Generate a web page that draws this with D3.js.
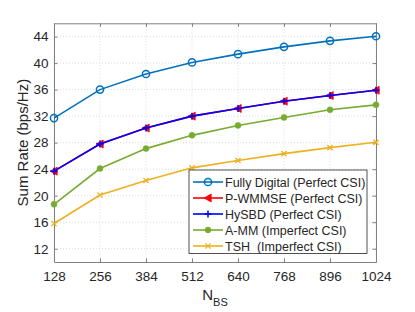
<!DOCTYPE html>
<html>
<head>
<meta charset="utf-8">
<script src="https://cdn.jsdelivr.net/npm/d3@7"></script>
<style>
  html, body { margin: 0; padding: 0; background: #fff; }
  svg { display: block; font-family: "Liberation Sans", Arial, Helvetica, sans-serif; }
</style>
</head>
<body>
<svg id="chart" width="415" height="312"></svg>
<script>
// ---- data ----
const nbs = [128, 256, 384, 512, 640, 768, 896, 1024];
const xTicks = [128, 256, 384, 512, 640, 768, 896, 1024];
const yTicks = [12, 16, 20, 24, 28, 32, 36, 40, 44];
const fullyDigital = [31.7, 36.0, 38.35, 40.1, 41.35, 42.45, 43.35, 44.05];
const pWMMSE       = [23.7, 27.8, 30.2, 32.0, 33.15, 34.25, 35.1, 35.9];
const hySBD        = [23.7, 27.8, 30.2, 32.0, 33.15, 34.25, 35.1, 35.9];
const aMM          = [18.7, 24.1, 27.1, 29.1, 30.6, 31.8, 32.95, 33.7];
const tsh          = [15.8, 20.1, 22.3, 24.2, 25.3, 26.35, 27.25, 28.05];
const seriesNames  = ["Fully Digital (Perfect CSI)", "P-WMMSE (Perfect CSI)", "HySBD (Perfect CSI)", "A-MM (Imperfect CSI)", "TSH  (Imperfect CSI)"];

const series = [
  { name: seriesNames[0], values: fullyDigital, color: "#0072BD", marker: "circle" },
  { name: seriesNames[1], values: pWMMSE, color: "#FF0000", marker: "triLeft" },
  { name: seriesNames[2], values: hySBD, color: "#0000FF", marker: "plus" },
  { name: seriesNames[3], values: aMM, color: "#77AC30", marker: "dot" },
  { name: seriesNames[4], values: tsh, color: "#EDB120", marker: "cross" }
];

const svg = d3.select("#chart");
const L = 54, R = 376, T = 23.3, B = 262;
const x = d3.scaleLinear().domain([128, 1024]).range([L, R]);
const y = d3.scaleLinear().domain([10, 46]).range([B, T]);

const axisColor = "#808080";
const textColor = "#262626";

// grid
const grid = svg.append("g");
grid.selectAll(".gx").data(xTicks).join("line")
  .attr("x1", d => x(d)).attr("x2", d => x(d)).attr("y1", T).attr("y2", B)
  .attr("stroke", "#d4d4d4").attr("stroke-width", 0.8).attr("stroke-dasharray", "1,2");
grid.selectAll(".gy").data(yTicks).join("line")
  .attr("x1", L).attr("x2", R).attr("y1", d => y(d)).attr("y2", d => y(d))
  .attr("stroke", "#d4d4d4").attr("stroke-width", 0.8).attr("stroke-dasharray", "1,2");

// axes (box with inward ticks)
function styleAxis(g) {
  g.select(".domain").attr("stroke", axisColor).attr("stroke-width", 1);
  g.selectAll(".tick line").attr("stroke", axisColor);
  g.selectAll(".tick text").attr("fill", textColor).attr("font-size", "13.5px")
    .attr("font-family", "'Liberation Sans', Arial, sans-serif");
}
const xAxisB = svg.append("g").attr("transform", `translate(0,${B})`)
  .call(d3.axisBottom(x).tickValues(xTicks).tickSizeInner(-3.5).tickSizeOuter(0).tickPadding(9.5).tickFormat(d3.format("d")));
styleAxis(xAxisB);
const xAxisT = svg.append("g").attr("transform", `translate(0,${T})`)
  .call(d3.axisTop(x).tickValues(xTicks).tickSizeInner(-3.5).tickSizeOuter(0).tickFormat(""));
styleAxis(xAxisT);
const yAxisL = svg.append("g").attr("transform", `translate(${L},0)`)
  .call(d3.axisLeft(y).tickValues(yTicks).tickSizeInner(-3.5).tickSizeOuter(0).tickPadding(5.5).tickFormat(d3.format("d")));
styleAxis(yAxisL);
const yAxisR = svg.append("g").attr("transform", `translate(${R},0)`)
  .call(d3.axisRight(y).tickValues(yTicks).tickSizeInner(-3.5).tickSizeOuter(0).tickFormat(""));
styleAxis(yAxisR);

// axis labels
svg.append("text")
  .attr("transform", `translate(28,${(T + B) / 2}) rotate(-90)`)
  .attr("text-anchor", "middle").attr("fill", textColor).attr("font-size", "15px")
  .text("Sum Rate (bps/Hz)");
const xl = svg.append("text").attr("x", (L + R) / 2).attr("y", 300)
  .attr("text-anchor", "middle").attr("fill", textColor).attr("font-size", "15px");
xl.append("tspan").text("N");
xl.append("tspan").attr("dy", 6).attr("font-size", "11px").text("BS");

// markers
function drawMarker(g, type, cx, cy, color) {
  if (type === "circle") {
    g.append("circle").attr("cx", cx).attr("cy", cy).attr("r", 3.6)
      .attr("fill", "none").attr("stroke", color).attr("stroke-width", 1.5);
  } else if (type === "triLeft") {
    const s = 4;
    g.append("path").attr("d", `M${cx - s},${cy} L${cx + s * 0.8},${cy - s} L${cx + s * 0.8},${cy + s} Z`)
      .attr("fill", color).attr("stroke", color).attr("stroke-width", 0.8);
  } else if (type === "plus") {
    const s = 3.5;
    g.append("path").attr("d", `M${cx - s},${cy} H${cx + s} M${cx},${cy - s} V${cy + s}`)
      .attr("stroke", color).attr("stroke-width", 1.5);
  } else if (type === "dot") {
    g.append("circle").attr("cx", cx).attr("cy", cy).attr("r", 3)
      .attr("fill", color).attr("stroke", color).attr("stroke-width", 0.5);
  } else if (type === "cross") {
    const s = 2.6;
    g.append("path").attr("d", `M${cx - s},${cy - s} L${cx + s},${cy + s} M${cx - s},${cy + s} L${cx + s},${cy - s}`)
      .attr("stroke", color).attr("stroke-width", 1.3);
  }
}

const line = d3.line().x((d, i) => x(nbs[i])).y(d => y(d));
series.forEach(s => {
  const g = svg.append("g");
  g.append("path").datum(s.values).attr("d", line)
    .attr("fill", "none").attr("stroke", s.color).attr("stroke-width", 1.6);
  s.values.forEach((v, i) => drawMarker(g, s.marker, x(nbs[i]), y(v), s.color));
});

// legend
const lg = svg.append("g");
lg.append("rect").attr("x", 189).attr("y", 170).attr("width", 178).attr("height", 83.5)
  .attr("fill", "#fff").attr("stroke", "#262626").attr("stroke-width", 0.8);
const rowY = d3.scaleLinear().domain([0, 4]).range([182, 246]);
series.forEach((s, i) => {
  const yy = rowY(i);
  lg.append("line").attr("x1", 193).attr("x2", 223).attr("y1", yy).attr("y2", yy)
    .attr("stroke", s.color).attr("stroke-width", 1.6);
  drawMarker(lg, s.marker, 208, yy, s.color);
  lg.append("text").attr("x", 225).attr("y", yy + 4.5).attr("fill", textColor)
    .attr("font-size", "12.5px").attr("xml:space", "preserve").style("white-space", "pre").text(s.name);
});
</script>
</body>
</html>
